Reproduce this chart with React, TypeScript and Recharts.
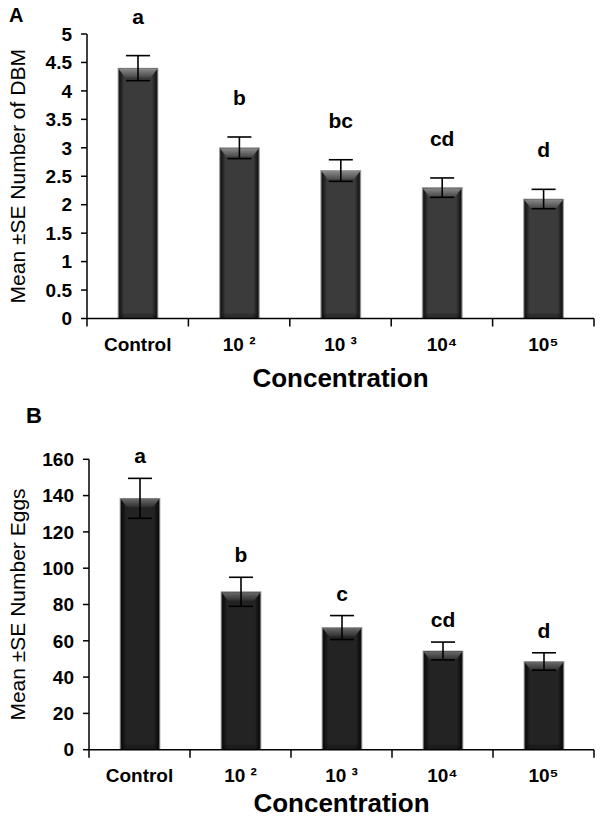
import React from "react";
import { BarChart, Bar, XAxis, YAxis, ErrorBar } from "recharts";

const categories = ["Control", "10 ²", "10 ³", "10⁴", "10⁵"];

const dbmMean = [4.4, 3.0, 2.6, 2.3, 2.1];
const dbmSE = [0.22, 0.19, 0.19, 0.17, 0.17];
const dbmLetters = ["a", "b", "bc", "cd", "d"];
const dbmTicks = [0, 0.5, 1, 1.5, 2, 2.5, 3, 3.5, 4, 4.5, 5];

const eggMean = [138.5, 87, 67.3, 54.4, 48.6];
const eggSE = [11, 8, 6.6, 4.9, 4.8];
const eggLetters = ["a", "b", "c", "cd", "d"];
const eggTicks = [0, 20, 40, 60, 80, 100, 120, 140, 160];

const dbmData = categories.map((name, i) => ({ name, mean: dbmMean[i], se: dbmSE[i], letter: dbmLetters[i] }));
const eggData = categories.map((name, i) => ({ name, mean: eggMean[i], se: eggSE[i], letter: eggLetters[i] }));

const FONT = "'Liberation Sans', Arial, Helvetica, sans-serif";

const makeBar = (prefix: string, gap: number) => (props: any) => {
  const { x, y, width, height, payload } = props;
  if (!height || height <= 0) return null;
  const px = height / payload.mean;
  const bevel = 7;
  const errTop = y - payload.se * px;
  return (
    <g>
      <rect x={x} y={y} width={width} height={height} fill={`url(#${prefix}-body)`} stroke="#9a9a9a" strokeWidth={0.7} />
      <polygon
        points={`${x + 0.5},${y + 0.5} ${x + width - 0.5},${y + 0.5} ${x + width - bevel},${y + bevel + 2} ${x + bevel},${y + bevel + 2}`}
        fill={`url(#${prefix}-top)`}
      />
      <polygon
        points={`${x + 0.5},${y + height - 0.5} ${x + 5},${y + height - 5} ${x + width - 5},${y + height - 5} ${x + width - 0.5},${y + height - 0.5}`}
        fill="#000"
        opacity={0.22}
      />
      <text x={x + width / 2} y={errTop - gap} textAnchor="middle" fontFamily={FONT} fontWeight="bold" fontSize={21} fill="#000">
        {payload.letter}
      </text>
    </g>
  );
};

const makeXTick = (band: number, axisY: number) => (props: any) => {
  const { x, payload, index } = props;
  const last = index === categories.length - 1;
  return (
    <g>
      <line x1={x - band / 2} x2={x - band / 2} y1={axisY} y2={axisY + 8} stroke="#000" strokeWidth={1.5} />
      {last && <line x1={x + band / 2} x2={x + band / 2} y1={axisY} y2={axisY + 8} stroke="#000" strokeWidth={1.5} />}
      <text x={x} y={axisY + 32} textAnchor="middle" fontFamily={FONT} fontWeight="bold" fontSize={19} fill="#000">
        {payload.value}
      </text>
    </g>
  );
};

const Grad = ({ prefix, mid, edge, topLight, topDark }: any) => (
  <defs>
    <linearGradient id={`${prefix}-body`} x1="0" y1="0" x2="1" y2="0">
      <stop offset="0%" stopColor="#777" />
      <stop offset="4%" stopColor={edge} />
      <stop offset="15%" stopColor={mid} />
      <stop offset="85%" stopColor={mid} />
      <stop offset="96%" stopColor={edge} />
      <stop offset="100%" stopColor="#777" />
    </linearGradient>
    <linearGradient id={`${prefix}-top`} x1="0" y1="0" x2="0" y2="1">
      <stop offset="0%" stopColor={topLight} />
      <stop offset="100%" stopColor={topDark} />
    </linearGradient>
  </defs>
);

type PanelProps = {
  data: any[];
  ticks: number[];
  domain: [number, number];
  top: number;
  height: number;
  marginTop: number;
  yWidth: number;
  xHeight: number;
  ylabel: string;
  prefix: string;
  gap: number;
  titleOffset: number;
  colors: any;
};

const Panel = ({ data, ticks, domain, top, height, marginTop, yWidth, xHeight, ylabel, prefix, gap, titleOffset, colors }: PanelProps) => {
  const width = 601;
  const right = 7;
  const plotW = width - right - yWidth;
  const band = plotW / data.length;
  const axisY = height - xHeight;
  const XTick = makeXTick(band, axisY);
  const BarShape = makeBar(prefix, gap);
  return (
    <div style={{ position: "absolute", left: 0, top, width, height }}>
      <BarChart width={width} height={height} data={data} margin={{ top: marginTop, right, bottom: 0, left: 0 }} barSize={40}>
        <Grad prefix={prefix} {...colors} />
        <XAxis
          dataKey="name"
          height={xHeight}
          interval={0}
          tickLine={false}
          axisLine={{ stroke: "#000", strokeWidth: 1.5 }}
          tick={<XTick />}
          label={(p: any) => {
            const vb = p.viewBox || {};
            return (
              <text x={vb.x + vb.width / 2} y={axisY + titleOffset} textAnchor="middle" fontFamily={FONT} fontWeight="bold" fontSize={26} fill="#000">
                Concentration
              </text>
            );
          }}
        />
        <YAxis
          type="number"
          domain={domain}
          ticks={ticks}
          interval={0}
          width={yWidth}
          tickSize={6}
          tickMargin={9}
          axisLine={{ stroke: "#000", strokeWidth: 1.5 }}
          tickLine={{ stroke: "#000", strokeWidth: 1.5 }}
          tick={{ fill: "#000", fontFamily: FONT, fontWeight: "bold", fontSize: 19 }}
          label={(p: any) => {
            const vb = p.viewBox || {};
            const cx = 17;
            const cy = vb.y + vb.height / 2;
            return (
              <text x={cx} y={cy} transform={`rotate(-90, ${cx}, ${cy})`} textAnchor="middle" dominantBaseline="central" fontFamily={FONT} fontSize={21} fill="#000">
                {ylabel}
              </text>
            );
          }}
        />
        <Bar dataKey="mean" isAnimationActive={false} shape={<BarShape />}>
          <ErrorBar dataKey="se" width={12} stroke="#000" strokeWidth={1.6} direction="y" />
        </Bar>
      </BarChart>
    </div>
  );
};

export default function App() {
  return (
    <div style={{ position: "absolute", left: 0, top: 0, width: 601, height: 822, background: "#fff" }}>
      <Panel
        data={dbmData}
        ticks={dbmTicks}
        domain={[0, 5]}
        top={0}
        height={400}
        marginTop={34}
        yWidth={87}
        xHeight={81.5}
        ylabel="Mean ±SE Number of DBM"
        prefix="pa"
        gap={32}
        titleOffset={68}
        colors={{ mid: "#3b3b3b", edge: "#141414", topLight: "#8a8a8a", topDark: "#4a4a4a" }}
      />
      <Panel
        data={eggData}
        ticks={eggTicks}
        domain={[0, 160]}
        top={400}
        height={422}
        marginTop={59.3}
        yWidth={89}
        xHeight={72.3}
        ylabel="Mean ±SE Number Eggs"
        prefix="pb"
        gap={15}
        titleOffset={62}
        colors={{ mid: "#232323", edge: "#0a0a0a", topLight: "#6a6a6a", topDark: "#2e2e2e" }}
      />
      <div style={{ position: "absolute", left: 9, top: 3, fontFamily: FONT, fontWeight: "bold", fontSize: 20, lineHeight: "24px" }}>A</div>
      <div style={{ position: "absolute", left: 26, top: 403, fontFamily: FONT, fontWeight: "bold", fontSize: 22, lineHeight: "26px" }}>B</div>
    </div>
  );
}
